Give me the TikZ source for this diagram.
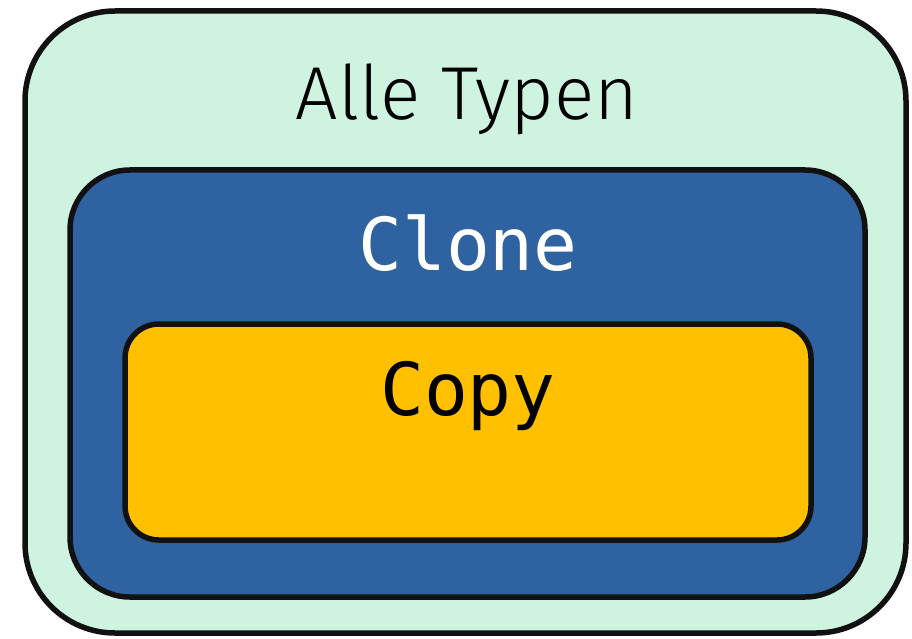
\documentclass[tikz,border=0pt]{standalone}
\usepackage{fontspec}
\setmainfont{Fira Sans}[UprightFont={* Light}]
\setmonofont{DejaVu Sans Mono}
\definecolor{mint}{HTML}{CEF3E0}
\definecolor{cblue}{HTML}{2F62A0}
\definecolor{cyellow}{HTML}{FFC000}
\definecolor{stroke}{HTML}{111111}
\tikzset{
  setbox/.style={draw=stroke, line width=5.5pt, inner sep=0pt, outer sep=0pt},
  lbl/.style={anchor=base, inner sep=0pt}
}
\begin{document}
\begin{tikzpicture}[x=1pt, y=-1pt]
\useasboundingbox (0,0) rectangle (912,639);
\node[setbox, fill=mint, rounded corners=90pt, minimum width=881pt, minimum height=622pt] (all) at (465.5,322) {};
\node[setbox, fill=cblue, rounded corners=60pt, minimum width=795pt, minimum height=427pt] (clone) at (467.5,383.5) {};
\node[setbox, fill=cyellow, rounded corners=34pt, minimum width=686pt, minimum height=216pt] (copy) at (468,432) {};
\node[lbl, font=\fontsize{75}{80}\selectfont] (tall) at (467,120) {Alle Typen};
\node[lbl, font=\ttfamily\fontsize{73}{80}\selectfont, text=white] (tclone) at (468,270) {Clone};
\node[lbl, font=\ttfamily\fontsize{73}{80}\selectfont, text=black] (tcopy) at (468,415) {Copy};
\end{tikzpicture}
\end{document}
